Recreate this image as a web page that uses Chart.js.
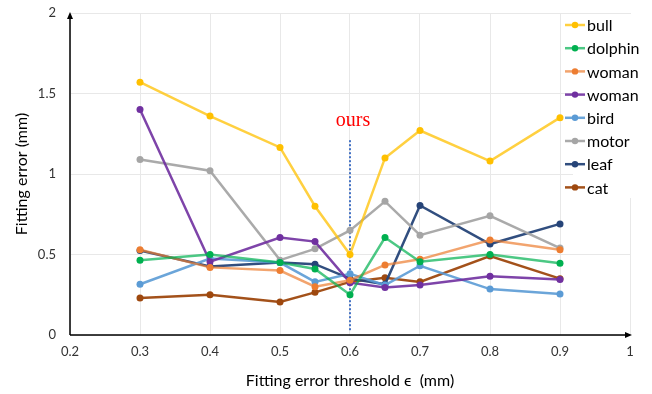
<!DOCTYPE html>
<html>
<head>
<meta charset="utf-8">
<script src="https://cdn.jsdelivr.net/npm/chart.js@4"></script>
<style>
    html, body { margin: 0; padding: 0; background: #fff; }
    #wrap { width: 652px; height: 394px; }
</style>
</head>
<body>
<div id="wrap"><canvas id="myChart"></canvas></div>
<script>
// 横軸（閾値）
const thresholds = [0.3, 0.4, 0.5, 0.55, 0.6, 0.65, 0.7, 0.8, 0.9];
// 系列名
const seriesNames = ["bull", "dolphin", "woman", "woman", "bird", "motor", "leaf", "cat"];
// 各モデルの誤差
const bullValues = [1.57, 1.36, 1.165, 0.80, 0.50, 1.10, 1.27, 1.08, 1.35];
const dolphinValues = [0.465, 0.50, 0.45, 0.41, 0.25, 0.605, 0.455, 0.50, 0.445];
const womanOrangeValues = [0.53, 0.42, 0.40, 0.30, 0.34, 0.435, 0.47, 0.59, 0.53];
const womanPurpleValues = [1.40, 0.455, 0.605, 0.58, 0.325, 0.295, 0.31, 0.365, 0.345];
const birdValues = [0.315, 0.475, 0.45, 0.33, 0.38, 0.31, 0.43, 0.285, 0.255];
const motorValues = [1.09, 1.02, 0.465, 0.535, 0.65, 0.83, 0.62, 0.74, 0.54];
const leafValues = [0.525, 0.425, 0.45, 0.44, 0.35, 0.315, 0.805, 0.565, 0.69];
const catValues = [0.23, 0.25, 0.205, 0.265, 0.33, 0.355, 0.33, 0.49, 0.35];
// 「ours」の位置
const oursThreshold = 0.6;
const oursLine = [1.21, 0.02];
// 目盛り
const xTicks = [0.2, 0.3, 0.4, 0.5, 0.6, 0.7, 0.8, 0.9, 1];
const yTicks = [0, 0.5, 1, 1.5, 2];

const allValues = [bullValues, dolphinValues, womanOrangeValues, womanPurpleValues, birdValues, motorValues, leafValues, catValues];
const markerColors = ["#FFC000", "#00B050", "#ED7D31", "#7030A0", "#5B9BD5", "#A5A5A5", "#264478", "#9E480E"];
const lineColors = ["rgba(255,192,0,0.75)", "rgba(0,176,80,0.7)", "rgba(237,125,49,0.7)", "rgba(112,48,160,0.9)",
    "rgba(91,155,213,0.9)", "rgba(165,165,165,0.95)", "rgba(38,68,120,0.95)", "rgba(158,72,14,0.95)"];

const font = "Lato, 'Open Sans', sans-serif";

// データセットを作る
const datasets = allValues.map((values, i) => ({
    label: seriesNames[i],
    data: thresholds.map((x, j) => ({ x, y: values[j] })),
    showLine: true,
    borderColor: lineColors[i],
    backgroundColor: markerColors[i],
    pointBackgroundColor: markerColors[i],
    pointBorderColor: markerColors[i],
    borderWidth: 2.5,
    pointRadius: 3.5,
    pointBorderWidth: 0,
}));
// 点線
datasets.push({
    label: "ours",
    data: oursLine.map((y) => ({ x: oursThreshold, y })),
    showLine: true,
    borderColor: "#4472C4",
    borderDash: [2, 2],
    borderWidth: 2,
    pointRadius: 0,
});

// 凡例・矢印・注記を描くプラグイン
const decorPlugin = {
    id: "decor",
    beforeDatasetsDraw(chart) {
        const ctx = chart.ctx;
        ctx.save();
        ctx.fillStyle = "#fff";
        ctx.fillRect(573, 14, 79, 184);
        ctx.restore();
    },
    afterDraw(chart) {
        const ctx = chart.ctx;
        const area = chart.chartArea;
        ctx.save();
        // 軸と矢印
        ctx.strokeStyle = "#000";
        ctx.fillStyle = "#000";
        ctx.lineWidth = 1.5;
        ctx.beginPath();
        ctx.moveTo(area.left, area.bottom);
        ctx.lineTo(area.left, area.top + 2);
        ctx.moveTo(area.left, area.bottom);
        ctx.lineTo(area.right - 2, area.bottom);
        ctx.stroke();
        ctx.beginPath();
        ctx.moveTo(area.left, area.top - 1);
        ctx.lineTo(area.left - 3, area.top + 6);
        ctx.lineTo(area.left + 3, area.top + 6);
        ctx.fill();
        ctx.beginPath();
        ctx.moveTo(area.right + 2, area.bottom);
        ctx.lineTo(area.right - 5, area.bottom - 3);
        ctx.lineTo(area.right - 5, area.bottom + 3);
        ctx.fill();

        // ours
        const xs = chart.scales.x;
        const ys = chart.scales.y;
        ctx.fillStyle = "#FF0000";
        ctx.font = "20px 'Liberation Serif', 'DejaVu Serif', serif";
        ctx.textAlign = "center";
        ctx.textBaseline = "alphabetic";
        ctx.fillText("ours", xs.getPixelForValue(oursThreshold) + 3, ys.getPixelForValue(1.3));

        // 凡例
        ctx.font = "16px " + font;
        ctx.textAlign = "left";
        ctx.textBaseline = "middle";
        seriesNames.forEach((name, i) => {
            const y = 25 + i * 23.2;
            ctx.strokeStyle = lineColors[i];
            ctx.lineWidth = 2.5;
            ctx.beginPath();
            ctx.moveTo(565, y);
            ctx.lineTo(585, y);
            ctx.stroke();
            ctx.fillStyle = markerColors[i];
            ctx.beginPath();
            ctx.arc(575, y, 3.2, 0, Math.PI * 2);
            ctx.fill();
            ctx.fillStyle = "#000";
            ctx.fillText(name, 587, y + 1);
        });
        ctx.restore();
    },
};

// グラフの表示関数
function drawChart() {
    const ctx = document.getElementById("myChart");
    new Chart(ctx, {
        type: "scatter",
        data: { datasets },
        options: {
            responsive: true,
            maintainAspectRatio: false,
            animation: false,
            layout: { padding: { top: 13, right: 22, left: 0, bottom: 0 } },
            plugins: { legend: { display: false }, tooltip: { enabled: false } },
            scales: {
                x: {
                    type: "linear",
                    min: xTicks[0],
                    max: xTicks[xTicks.length - 1],
                    afterBuildTicks: (scale) => { scale.ticks = xTicks.map((v) => ({ value: v })); },
                    afterFit: (scale) => { scale.height = 59; },
                    ticks: {
                        callback: (v) => String(Number(v.toFixed(1))),
                        font: { family: font, size: 13 },
                        color: "#333",
                        padding: 9,
                        maxRotation: 0,
                    },
                    grid: { color: "#e8e8e8", drawTicks: false },
                    border: { display: false },
                    title: {
                        display: true,
                        text: "Fitting error threshold ϵ  (mm)",
                        font: { family: font, size: 16 },
                        color: "#000",
                        padding: { top: 0, bottom: 4 },
                    },
                },
                y: {
                    min: yTicks[0],
                    max: yTicks[yTicks.length - 1],
                    afterBuildTicks: (scale) => { scale.ticks = yTicks.map((v) => ({ value: v })); },
                    afterFit: (scale) => {
                        scale.width = 70;
                        scale.paddingTop = 0;
                        scale.paddingBottom = 0;
                    },
                    ticks: {
                        callback: (v) => String(v),
                        font: { family: font, size: 13 },
                        color: "#333",
                        padding: 14,
                    },
                    grid: { color: "#e8e8e8", drawTicks: false },
                    border: { display: false },
                    title: {
                        display: true,
                        text: "Fitting error (mm)",
                        font: { family: font, size: 16 },
                        color: "#000",
                        padding: { top: 12, bottom: 0 },
                    },
                },
            },
        },
        plugins: [decorPlugin],
    });
}

window.onload = function () {
    drawChart();
};
</script>
</body>
</html>
